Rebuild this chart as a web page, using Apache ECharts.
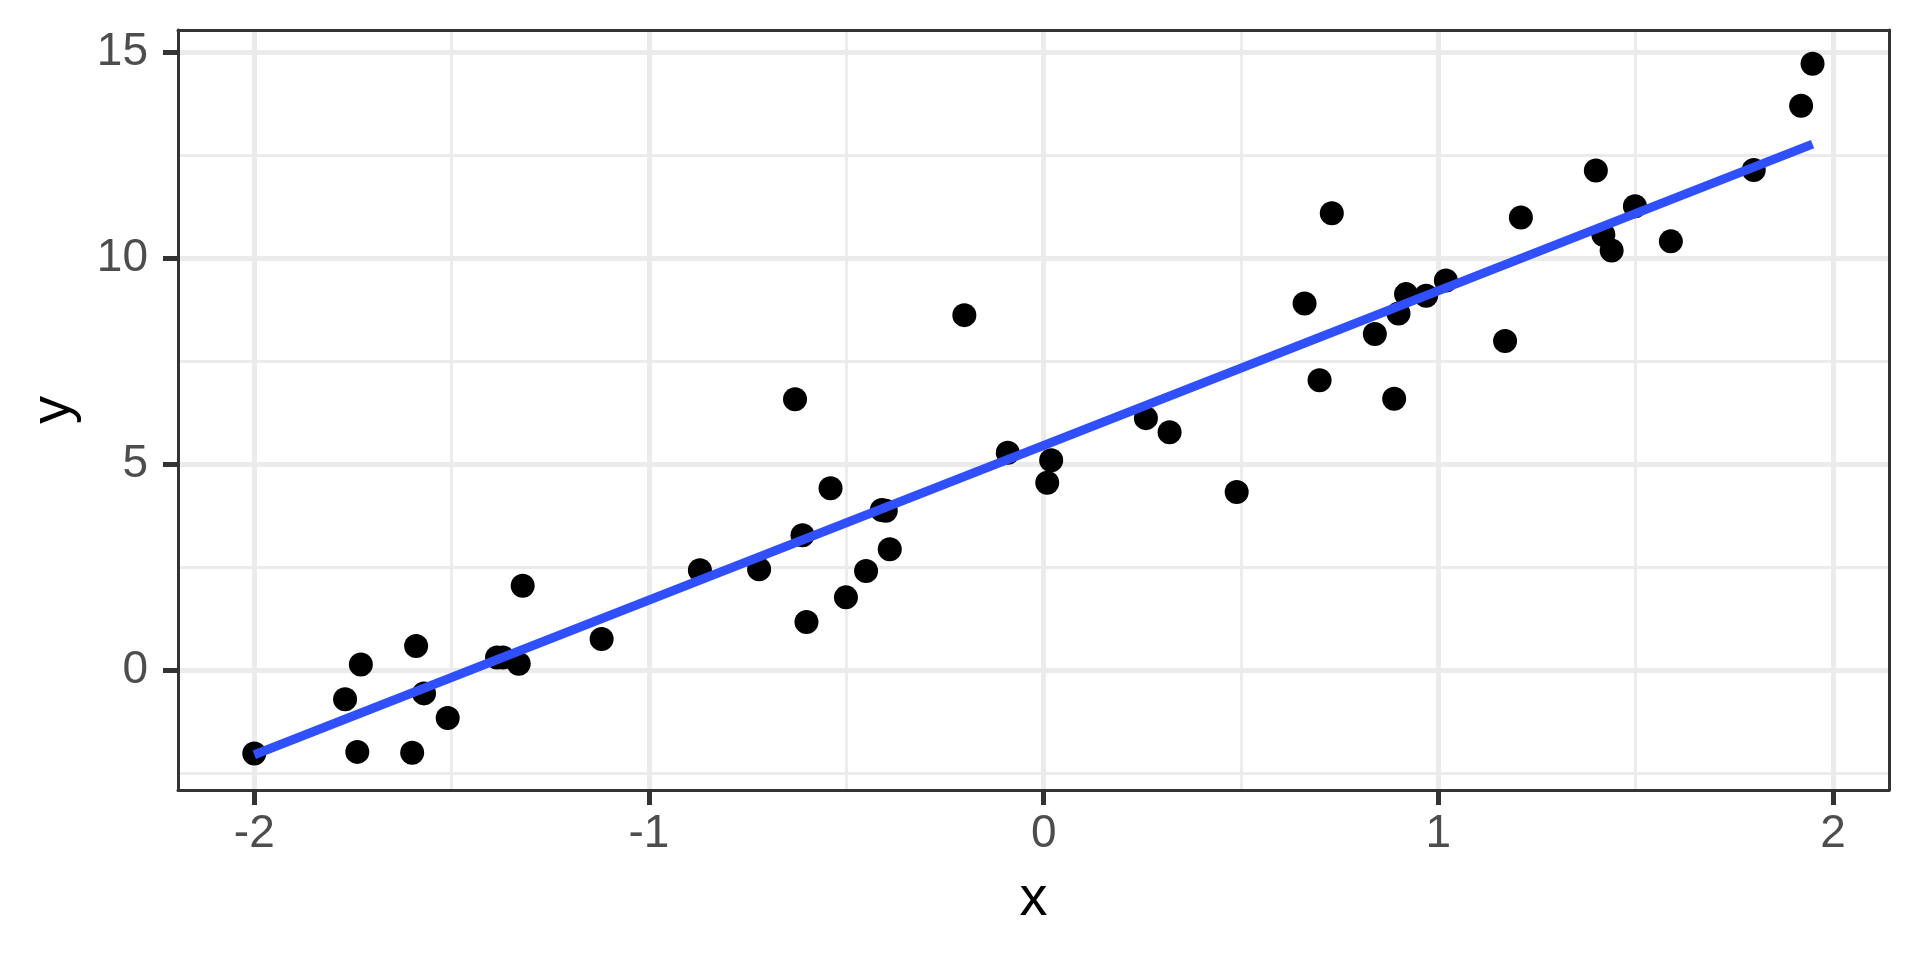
<!DOCTYPE html>
<html>
<head>
<meta charset="utf-8">
<title>y vs x</title>
<script src="https://cdn.jsdelivr.net/npm/echarts@6/dist/echarts.min.js"></script>
<style>
  html, body { margin: 0; padding: 0; background: #fff; }
  #chart { width: 1920px; height: 960px; }
</style>
</head>
<body>
<div id="chart"></div>
<script>
// points
var xs = [-2.0, -1.770, -1.730, -1.739, -1.590, -1.600, -1.570, -1.510, -1.385, -1.370, -1.330, -1.320, -1.120, -0.871, -0.721,
  -0.630, -0.611, -0.601, -0.540, -0.501, -0.450, -0.410, -0.400, -0.390, -0.201, -0.091, 0.009, 0.019, 0.259, 0.319, 0.489,
  0.661, 0.699, 0.730, 0.839, 0.888, 0.899, 0.918, 0.969, 1.019, 1.169, 1.209, 1.399, 1.418, 1.439, 1.498, 1.589, 1.799, 1.919, 1.948];
var ys = [-2.02, -0.70, 0.14, -1.98, 0.59, -2.00, -0.56, -1.16, 0.31, 0.31, 0.16, 2.05, 0.76, 2.43, 2.45,
  6.58, 3.28, 1.17, 4.42, 1.77, 2.41, 3.89, 3.87, 2.94, 8.62, 5.28, 4.55, 5.10, 6.12, 5.78, 4.33,
  8.90, 7.04, 11.09, 8.16, 6.59, 8.66, 9.13, 9.09, 9.46, 7.99, 10.99, 12.13, 10.57, 10.19, 11.26, 10.41, 12.14, 13.70, 14.72];

// fitted line ends (lm smooth)
var fitX = [-2.0, 1.948];
var fitY = [-2.05, 12.77];

// ticks and grid breaks
var xTicks = [-2, -1, 0, 1, 2];
var xMinor = [-1.5, -0.5, 0.5, 1.5];
var yTicks = [0, 5, 10, 15];
var yMinor = [-2.5, 2.5, 7.5, 12.5];

var xRange = [-2.1933, 2.1417];
var yRange = [-2.905, 15.54];

var font = '"Liberation Sans", Arial, sans-serif';
var gridColor = '#EBEBEB';
var inkColor = '#333333';

var chart = echarts.init(document.getElementById('chart'));

var points = xs.map(function (x, i) { return [x, ys[i]]; });
var fitLine = fitX.map(function (x, i) { return [x, fitY[i]]; });

function gridLines(vals, key, width) {
  return vals.map(function (v) {
    var d = {};
    d[key] = v;
    d.lineStyle = { color: gridColor, width: width, type: 'solid' };
    return d;
  });
}

var edgeAxis = {
  type: 'value',
  axisLine: { show: true, onZero: false, lineStyle: { color: inkColor, width: 3 } },
  axisTick: { show: false },
  axisLabel: { show: false },
  splitLine: { show: false },
  z: 10
};

chart.setOption({
  animation: false,
  backgroundColor: '#ffffff',
  grid: {
    left: 178,
    top: 30,
    width: 1711,
    height: 760,
    containLabel: false
  },
  xAxis: [
    {
      type: 'value',
      min: xRange[0],
      max: xRange[1],
      position: 'bottom',
      name: 'x',
      nameLocation: 'middle',
      nameGap: 82,
      nameTextStyle: { color: '#000', fontSize: 56, fontFamily: font },
      axisLine: { show: true, onZero: false, lineStyle: { color: inkColor, width: 3 } },
      axisTick: { show: true, customValues: xTicks, length: 15, lineStyle: { color: inkColor, width: 5 } },
      axisLabel: { customValues: xTicks, margin: 21, color: '#4D4D4D', fontSize: 46, fontFamily: font },
      splitLine: { show: false },
      z: 10
    },
    Object.assign({}, edgeAxis, { min: xRange[0], max: xRange[1], position: 'top' })
  ],
  yAxis: [
    {
      type: 'value',
      min: yRange[0],
      max: yRange[1],
      position: 'left',
      name: 'y',
      nameLocation: 'middle',
      nameGap: 96,
      nameRotate: 90,
      nameTextStyle: { color: '#000', fontSize: 56, fontFamily: font },
      axisLine: { show: true, onZero: false, lineStyle: { color: inkColor, width: 3 } },
      axisTick: { show: true, customValues: yTicks, length: 15, lineStyle: { color: inkColor, width: 5 } },
      axisLabel: { customValues: yTicks, margin: 30, color: '#4D4D4D', fontSize: 46, fontFamily: font },
      splitLine: { show: false },
      z: 10
    },
    Object.assign({}, edgeAxis, { min: yRange[0], max: yRange[1], position: 'right' })
  ],
  series: [
    {
      // panel grid, drawn under the points
      type: 'line',
      data: [],
      silent: true,
      z: 1,
      markLine: {
        silent: true,
        z: 1,
        symbol: ['none', 'none'],
        label: { show: false },
        emphasis: { disabled: true },
        data: [].concat(
          gridLines(xMinor, 'xAxis', 2.8),
          gridLines(yMinor, 'yAxis', 2.8),
          gridLines(xTicks, 'xAxis', 5),
          gridLines(yTicks, 'yAxis', 5)
        )
      }
    },
    {
      type: 'scatter',
      data: points,
      symbol: 'circle',
      symbolSize: 24,
      itemStyle: { color: '#000000', opacity: 1 },
      z: 3
    },
    {
      type: 'line',
      data: fitLine,
      showSymbol: false,
      symbol: 'none',
      lineStyle: { color: '#3050FF', width: 9, cap: 'butt' },
      z: 4
    }
  ]
});
</script>
</body>
</html>
